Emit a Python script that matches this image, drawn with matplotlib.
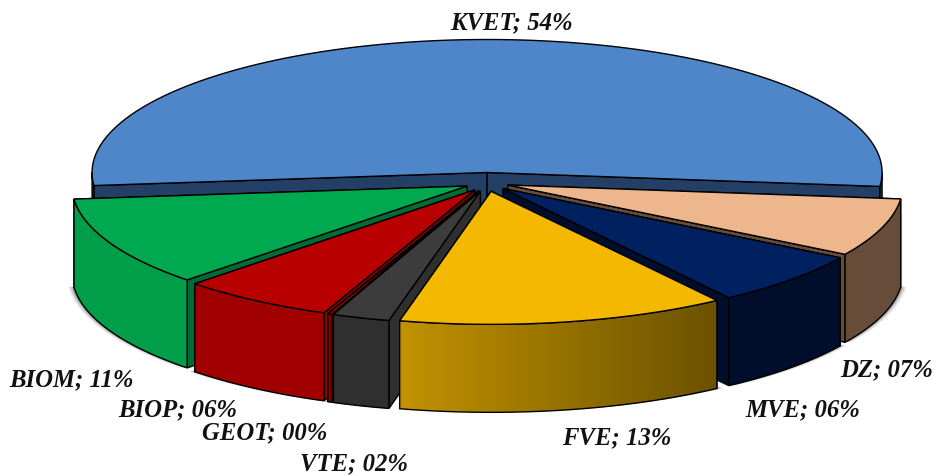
import numpy as np
import matplotlib
matplotlib.use("Agg")
import matplotlib.pyplot as plt
from matplotlib.patches import Polygon

# ---- data (clockwise from the right-hand side of the pie) ----
categories = ["DZ", "MVE", "FVE", "VTE", "GEOT", "BIOP", "BIOM", "KVET"]
shares = [7.05, 6.6, 13.4, 2.35, 0.17, 6.3, 10.9, 53.23]
share_labels = ["07%", "06%", "13%", "02%", "00%", "06%", "11%", "54%"]

# ---- styles ----
top_colors = ["#EEB68C", "#00205F", "#F4B800", "#3C3C3C", "#A80000", "#B80000", "#00A84F", "#4F86C9"]
wall_colors = ["#674C3A", "#000E2B", None, "#2F2F2F", "#8A0000", "#A00000", "#009E48", "#243F66"]
face_colors = ["#674C3A", "#000E2B", "#7A5E00", "#2F2F2F", "#8A0000", "#8A0000", "#006B34", "#243F66"]
label_pos = [(887, 370), (803, 410), (617, 438), (354, 464), (265, 433), (178, 410), (71, 380), (511, 23)]

CX, CY, A, B, DEPTH = 487, 182, 395, 133, 88
EX, EY = 22, 9.5
START = 6.0

fig = plt.figure(figsize=(9.38, 4.76), dpi=100)
ax = fig.add_axes([0, 0, 1, 1])
ax.set_xlim(0, 938)
ax.set_ylim(476, 0)
ax.axis("off")

vals = np.array(shares, dtype=float)
sweeps = vals / vals.sum() * 360
t0 = START + np.concatenate([[0], np.cumsum(sweeps)[:-1]])
t1 = t0 + sweeps
mids = (t0 + t1) / 2


def arc(x0, y0, a, b):
    n = max(int(b - a) * 2, 2)
    t = np.radians(np.linspace(a, b, n))
    return np.column_stack([x0 + A * np.cos(t), y0 + B * np.sin(t)])


def draw_wedge(i):
    m = np.radians(mids[i])
    x0, y0 = CX + EX * np.cos(m), CY + EY * np.sin(m)
    a, b = t0[i], t1[i]
    apex = np.array([x0, y0])
    down = np.array([0, DEPTH])
    z = 3 + np.sin(m)
    lw = 1.0
    # cut faces, the one further back first
    ends = sorted([a, b], key=lambda t: np.sin(np.radians(t)))
    for k, e in enumerate(ends):
        p = arc(x0, y0, e, e + 0.001)[0]
        ax.add_patch(Polygon([apex, p, p + down, apex + down], closed=True,
                             fc=face_colors[i], ec="black", lw=lw, zorder=z + k * 0.01))
    # outer wall on the front half
    for lo, hi in [(a, min(b, 180)), (max(a, 360), b)]:
        if hi <= lo:
            continue
        pts = arc(x0, y0, lo, hi) if lo < 360 else arc(x0, y0, lo - 360, hi - 360)
        poly = np.vstack([pts, (pts + down)[::-1]])
        if wall_colors[i] is None:
            patch = Polygon(poly, closed=True, fc="none", ec="black", lw=lw, zorder=z + 0.03)
            ax.add_patch(patch)
            grad = np.linspace(0, 1, 256)[None, :]
            clip = Polygon(poly, closed=True, transform=ax.transData)
            im = ax.imshow(grad, extent=[poly[:, 0].min(), poly[:, 0].max(),
                                         poly[:, 1].max(), poly[:, 1].min()],
                           cmap=matplotlib.colors.LinearSegmentedColormap.from_list(
                               "w", ["#C29200", "#6B5200"]),
                           aspect="auto", zorder=z + 0.02)
            im.set_clip_path(clip)
        else:
            ax.add_patch(Polygon(poly, closed=True, fc=wall_colors[i], ec="black", lw=lw, zorder=z + 0.03))
    # top
    top = np.vstack([apex, arc(x0, y0, a, b)])
    ax.add_patch(Polygon(top, closed=True, fc=top_colors[i], ec="black", lw=lw,
                         joinstyle="miter", zorder=z + 0.04))


# soft shadow under the slices
for i in range(len(vals)):
    m = np.radians(mids[i])
    if np.sin(m) < 0:
        continue
    x0, y0 = CX + EX * np.cos(m), CY + EY * np.sin(m)
    base = arc(x0, y0 + DEPTH, t0[i], t1[i])
    for grow, al in zip([2, 4, 6], [0.22, 0.14, 0.08]):
        pts = base + np.array([np.sign(np.cos(m)) * grow, 0])
        pts = np.vstack([[x0, y0 + DEPTH - 30], pts])
        ax.add_patch(Polygon(pts, closed=True, fc="black", ec="none", alpha=al, zorder=1))

for i in range(len(vals)):
    draw_wedge(i)

for name, lab, (x, y) in zip(categories, share_labels, label_pos):
    ax.text(x, y, f"{name}; {lab}", ha="center", va="center", fontsize=17.8,
            family="Liberation Serif", style="italic", weight="bold", color="#111111", zorder=10)

ax.set_xlim(0, 938)
ax.set_ylim(476, 0)
fig.savefig("out.png", dpi=100, facecolor="white")
